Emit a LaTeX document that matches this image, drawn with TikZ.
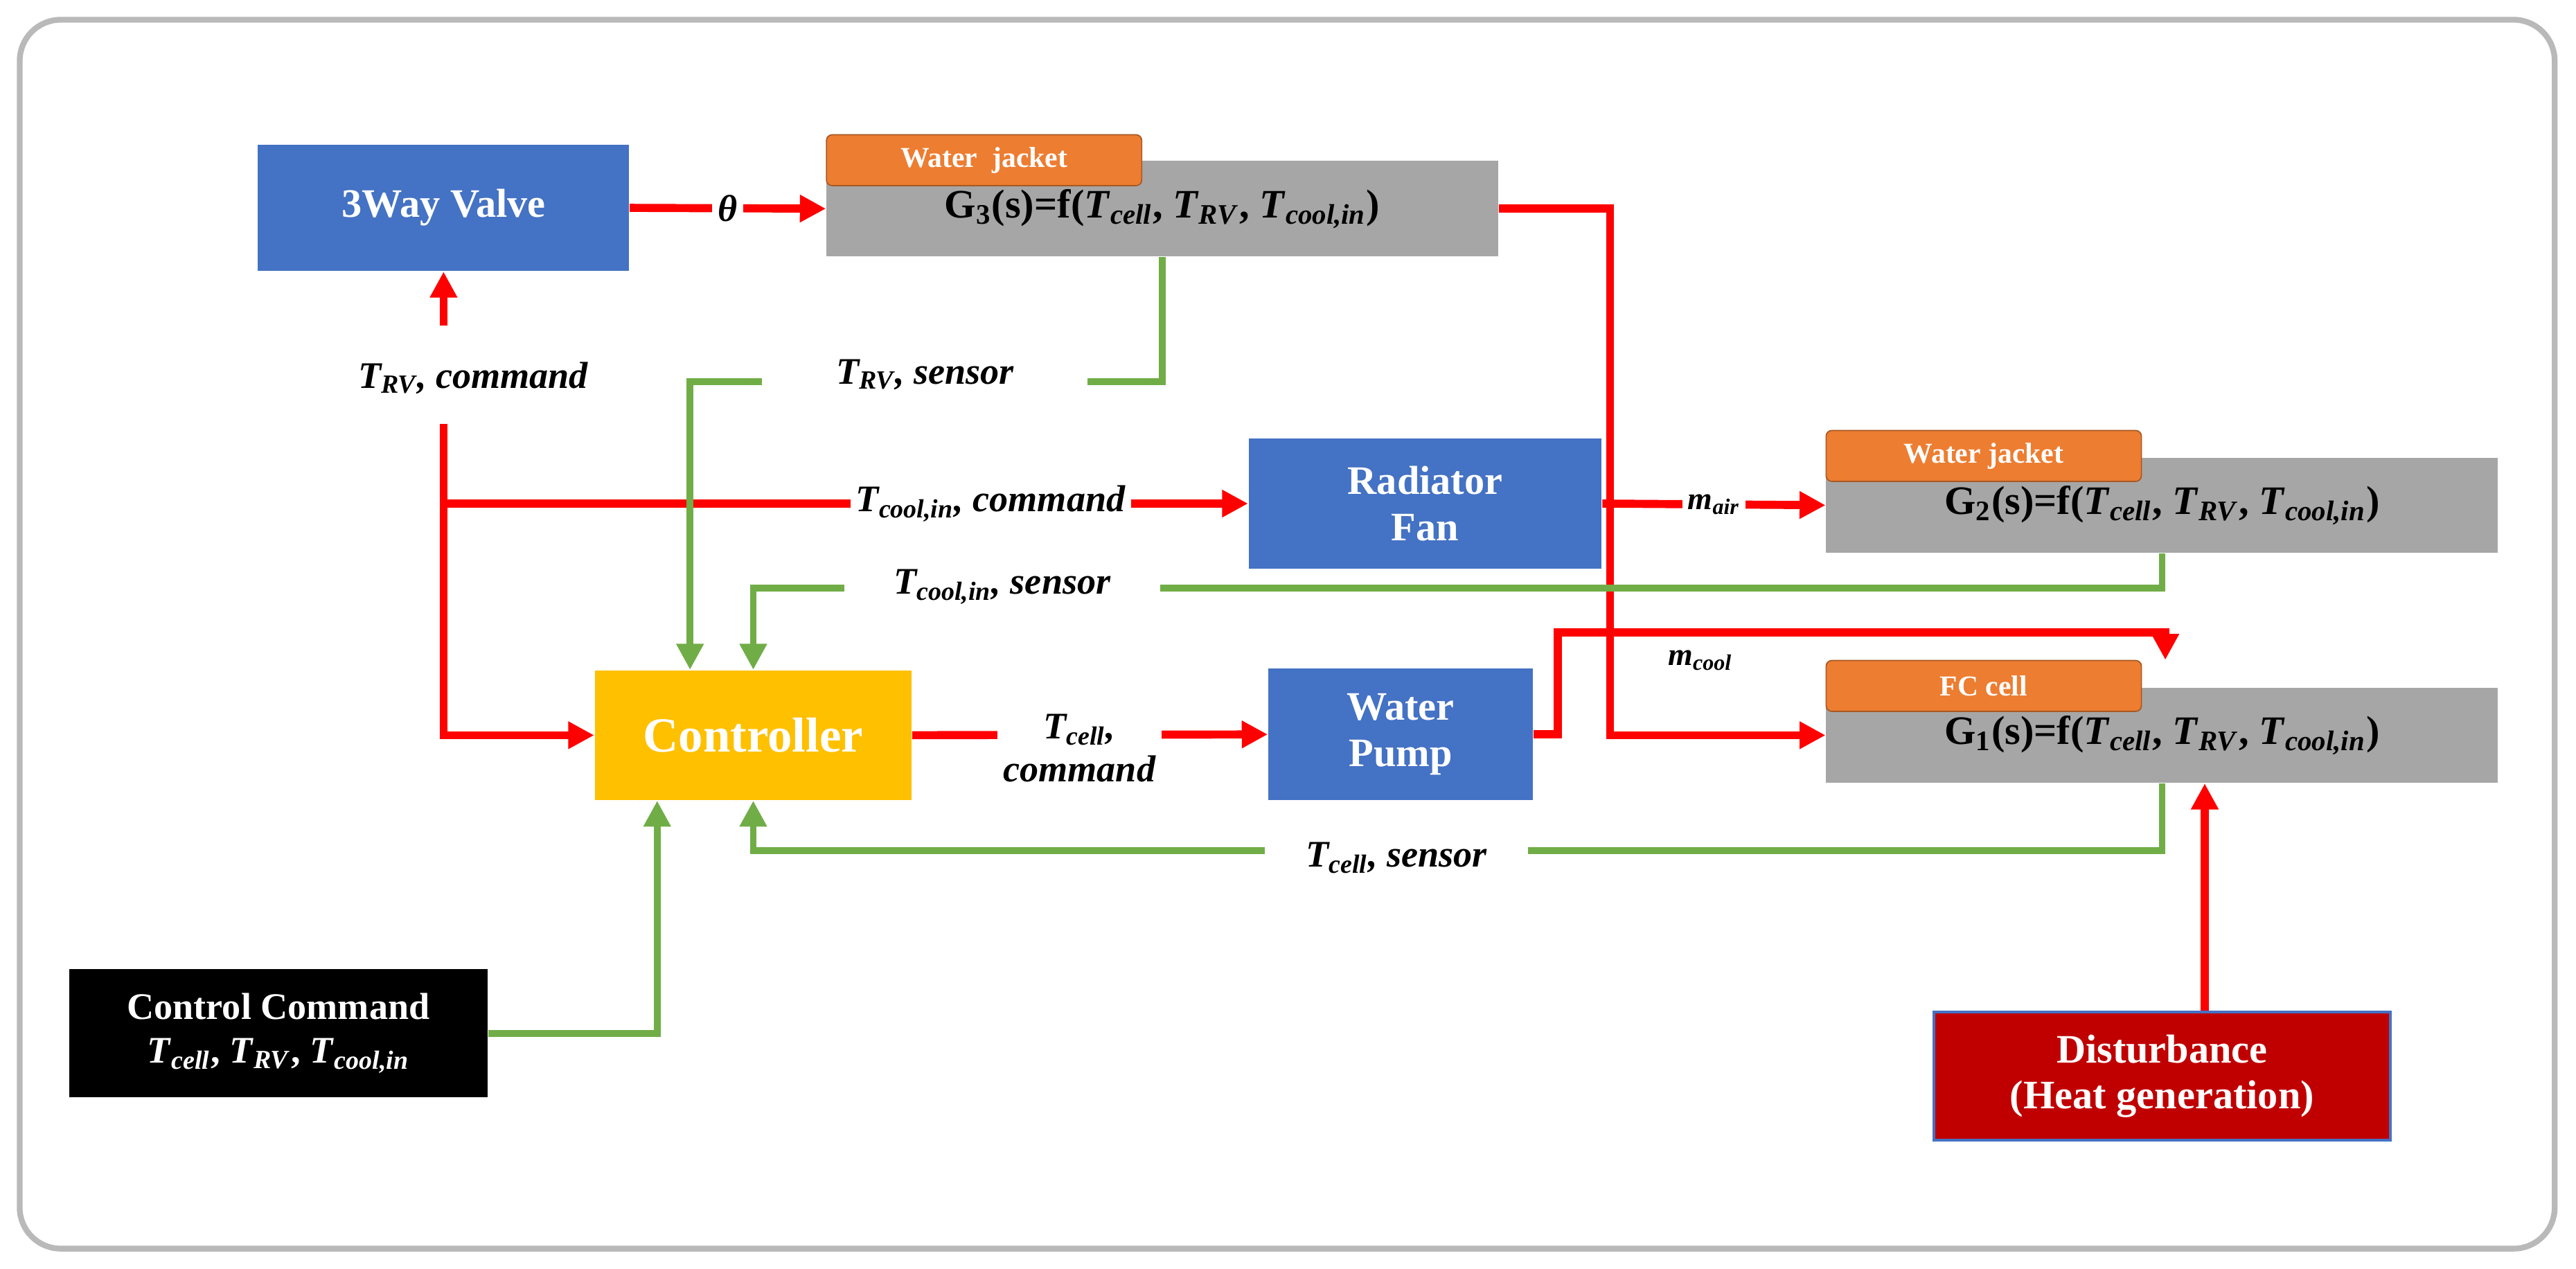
\documentclass[tikz,border=0pt]{standalone}
\usepackage{fontspec}
\setmainfont{Liberation Serif}
\usetikzlibrary{arrows.meta}
\usetikzlibrary{positioning}
\definecolor{boxblue}{HTML}{4472C4}
\definecolor{boxgray}{HTML}{A6A6A6}
\definecolor{taborange}{HTML}{ED7D31}
\definecolor{ctrlyellow}{HTML}{FFC000}
\definecolor{distred}{HTML}{C00000}
\definecolor{sigred}{HTML}{FF0000}
\definecolor{siggreen}{HTML}{70AD47}
\newcommand{\Tvar}[1]{\textit{T}\textsubscript{\textit{#1}}}
\newcommand{\mvar}[1]{\textit{m}\textsubscript{\textit{#1}}}
\tikzset{
  blk/.style={fill=boxblue,text=white,font=\fontsize{14}{16}\selectfont\bfseries,align=center,inner sep=0pt},
  gbox/.style={fill=boxgray,minimum width=8.18cm,minimum height=1.16cm,font=\fontsize{14}{16}\selectfont\bfseries,inner sep=0pt},
  tab/.style={fill=taborange,draw=taborange!70!black,rounded corners=2pt,minimum width=3.84cm,minimum height=0.62cm,text=white,font=\fontsize{10}{12}\selectfont\bfseries,inner sep=0pt},
  lbl/.style={fill=white,font=\fontsize{13}{15}\selectfont\bfseries\itshape,align=center,inner sep=2pt},
  redarr/.style={draw=sigred,line width=2.8pt,-{Triangle[length=9pt,width=9pt]}},
  grnarr/.style={draw=siggreen,line width=2.3pt,-{Triangle[length=9pt,width=9pt]}}
}
\begin{document}
\begin{tikzpicture}[x=0.02cm,y=-0.02cm]
  \useasboundingbox (0,0) rectangle (1568,772);
  \draw[gray!55,line width=2pt,rounded corners=0.5cm] (12,12) rectangle (1555,760);

  % blocks
  \node [blk,minimum width=4.52cm,minimum height=1.54cm] (valve) at (270,126.5) {3Way Valve};
  \node [gbox] (gthree) at (707.5,127) {G\textsubscript{3}(s)=f(\Tvar{cell}, \Tvar{RV}, \Tvar{cool,in})};
  \node [tab] (tabthree) at (599,97.5) {Water\ \ jacket};
  \node [blk,minimum width=4.3cm,minimum height=1.58cm] (fan) at (867.5,306.5) {Radiator\\Fan};
  \node [gbox] (gtwo) at (1316,307.5) {G\textsubscript{2}(s)=f(\Tvar{cell}, \Tvar{RV}, \Tvar{cool,in})};
  \node [tab] (tabtwo) at (1207.5,277.5) {Water jacket};
  \node [blk,fill=ctrlyellow,minimum width=3.86cm,minimum height=1.58cm,font=\fontsize{17}{19}\selectfont\bfseries] (ctrl) at (458.5,447.5) {Controller};
  \node [blk,minimum width=3.22cm,minimum height=1.6cm] (pump) at (852.5,447) {Water\\Pump};
  \node [gbox] (gone) at (1316,447.5) {G\textsubscript{1}(s)=f(\Tvar{cell}, \Tvar{RV}, \Tvar{cool,in})};
  \node [tab] (tabone) at (1207.5,417.5) {FC cell};
  \node [blk,fill=black,minimum width=5.1cm,minimum height=1.56cm,font=\fontsize{13}{15}\selectfont\bfseries] (cmd) at (169.5,629) {Control Command\\\Tvar{cell}, \Tvar{RV}, \Tvar{cool,in}};
  \node [blk,fill=distred,draw=boxblue,line width=1pt,minimum width=5.56cm,minimum height=1.56cm] (dist) at (1316,655) {Disturbance\\(Heat generation)};

  % red signals
  \coordinate (vtop) at (270,198);
  \coordinate (vbot) at (270,258);
  \coordinate (gtr) at (980,127);
  \coordinate (mc) at (1318,385);
  \draw [redarr] (valve.east) -- node [lbl] {θ} (gthree.west);
  \draw [redarr] (vtop) -- (valve.south);
  \node [lbl] (lblrv) at (288,230) {\Tvar{RV}, command};
  \draw [redarr] (vbot) |- (ctrl.west);
  \draw [redarr] (vbot|-fan.west) -- node [lbl,pos=0.68] {\Tvar{cool,in}, command} (fan.west);
  \draw [redarr] (fan.east) -- node [lbl,font=\fontsize{11}{13}\selectfont\bfseries\itshape] {\mvar{air}} (gtwo.west);
  \draw [redarr] (ctrl.east) -- node [lbl,pos=0.47,yshift=-0.16cm] {\Tvar{cell},\\command} (pump.west);
  \draw [redarr] (gthree.east) -- (gtr) |- (gone.west);
  \draw [redarr] (pump.east) -- ++(15,0) |- (mc) -- (mc|-tabone.north);
  \node [font=\fontsize{11}{13}\selectfont\bfseries\itshape] (lblmc) at (1035,402) {\mvar{cool}};
  \draw [redarr] ([xshift=0.52cm]dist.north) -- ([xshift=0.52cm]gone.south);

  % green feedback
  \draw [grnarr] (gthree.south) -- ++(0,76) -| ([xshift=-0.77cm]ctrl.north);
  \node [lbl,inner xsep=0.9cm] (lblrvs) at (563,228) {\Tvar{RV}, sensor};
  \draw [grnarr] (gtwo.south) -- ++(0,21) -| (ctrl.north);
  \node [lbl,inner xsep=0.6cm] (lblcs) at (610,357) {\Tvar{cool,in}, sensor};
  \draw [grnarr] (gone.south) -- ++(0,41) -| (ctrl.south);
  \node [lbl,inner xsep=0.5cm] (lblcells) at (850,522) {\Tvar{cell}, sensor};
  \draw [grnarr] (cmd.east) -| ([xshift=-1.17cm]ctrl.south);
\end{tikzpicture}
\end{document}
